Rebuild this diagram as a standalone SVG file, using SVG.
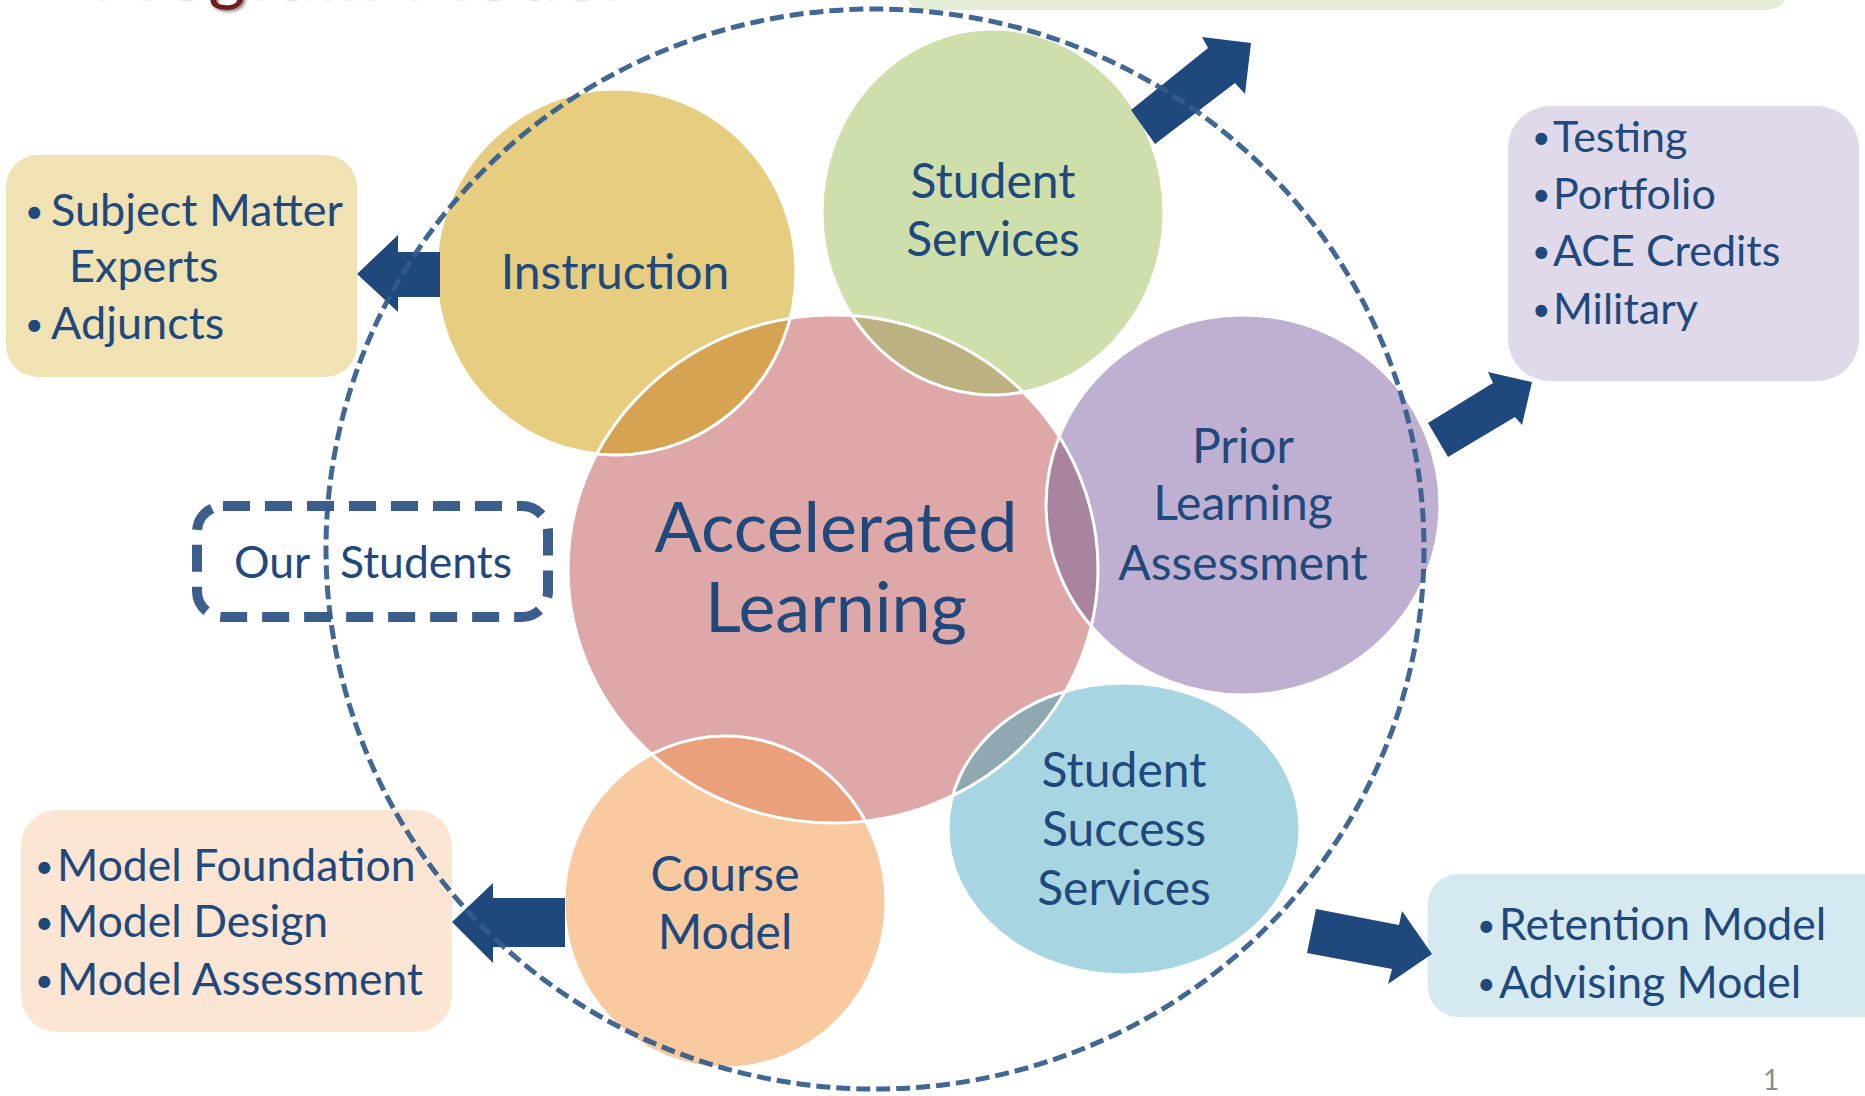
<svg xmlns="http://www.w3.org/2000/svg" width="1865" height="1096" viewBox="0 0 1865 1096">
<style>
  .lbl { font-family: Lato, "Open Sans", "Liberation Sans", sans-serif; fill: #1f497d; text-anchor: middle; }
  .c { font-size: 48px; }
  .big { font-size: 70px; }
  .box { font-family: Lato, "Open Sans", "Liberation Sans", sans-serif; fill: #1f497d; }
  .bul { font-family: Lato, "Open Sans", "Liberation Sans", sans-serif; fill: #1f497d; font-size: 32px; }
  .ring { fill: none; stroke: #ffffff; stroke-width: 3; }
  .arrow { fill: #1f497d; }
</style>
<defs>
  <clipPath id="clipAccel"><ellipse cx="833" cy="569" rx="265" ry="254"/></clipPath>
  <filter id="sh" x="-5%" y="-50%" width="110%" height="200%"><feDropShadow dx="2" dy="2" stdDeviation="1.5" flood-color="#000" flood-opacity="0.45"/></filter>
</defs>
<rect width="1865" height="1096" fill="#ffffff"/>

<g id="title">
  <text x="90" y="-3" font-family="Lato, 'Liberation Sans', sans-serif" font-size="72" fill="#6f1e1e" filter="url(#sh)" textLength="528" lengthAdjust="spacing">Program Model</text>
</g>

<g id="top-box">
  <rect x="903" y="-40" width="887" height="50" rx="24" fill="#e4edd5"/>
</g>

<g id="box-instruction">
  <rect x="6" y="155" width="351" height="222" rx="32" fill="#f0e2b2"/>
  <text class="bul" x="25" y="223">•</text>
  <text class="box" font-size="45" x="51" y="226">Subject Matter</text>
  <text class="box" font-size="45" x="69" y="282">Experts</text>
  <text class="bul" x="25" y="336">•</text>
  <text class="box" font-size="45" x="51" y="339">Adjuncts</text>
</g>

<g id="box-pla">
  <rect x="1508" y="106" width="351" height="275" rx="42" fill="#e0d9ea"/>
  <text class="bul" x="1532" y="149">•</text>
  <text class="box" font-size="43" x="1553" y="152">Testing</text>
  <text class="bul" x="1532" y="206">•</text>
  <text class="box" font-size="43" x="1553" y="209">Portfolio</text>
  <text class="bul" x="1532" y="263">•</text>
  <text class="box" font-size="43" x="1553" y="266">ACE Credits</text>
  <text class="bul" x="1532" y="321">•</text>
  <text class="box" font-size="43" x="1553" y="324">Military</text>
</g>

<g id="box-course">
  <rect x="21" y="810" width="431" height="222" rx="36" fill="#fde5d3"/>
  <text class="bul" x="35" y="878">•</text>
  <text class="box" font-size="44.5" x="57" y="881">Model Foundation</text>
  <text class="bul" x="35" y="934">•</text>
  <text class="box" font-size="44.5" x="57" y="937">Model Design</text>
  <text class="bul" x="35" y="992">•</text>
  <text class="box" font-size="44.5" x="57" y="995">Model Assessment</text>
</g>

<g id="box-success">
  <rect x="1428" y="874" width="470" height="143" rx="30" fill="#d4eaf0"/>
  <text class="bul" x="1477" y="937">•</text>
  <text class="box" font-size="44.5" x="1499" y="940">Retention Model</text>
  <text class="bul" x="1477" y="995">•</text>
  <text class="box" font-size="44.5" x="1499" y="998">Advising Model</text>
</g>

<g id="our-students">
  <rect x="197" y="506" width="351" height="111" rx="26" fill="none" stroke="#3b5e8c" stroke-width="10" stroke-dasharray="27 15"/>
  <text class="box" x="234" y="578" font-size="44.5">Our</text>
  <text class="box" x="340" y="578" font-size="44.5">Students</text>
</g>

<g id="accelerated-learning">
  <ellipse cx="833" cy="569" rx="265" ry="254" fill="#dfa8a8"/>
</g>
<g id="instruction">
  <ellipse cx="616" cy="272" rx="180" ry="183" fill="#e7cd80"/>
  <ellipse cx="616" cy="272" rx="180" ry="183" fill="#d6a352" clip-path="url(#clipAccel)"/>
</g>
<g id="student-services">
  <ellipse cx="993" cy="212" rx="171" ry="183" fill="#cfdfab"/>
  <ellipse cx="993" cy="212" rx="171" ry="183" fill="#bcb180" clip-path="url(#clipAccel)"/>
</g>
<g id="prior-learning">
  <ellipse cx="1243" cy="505" rx="197" ry="190" fill="#bfb0d1"/>
  <ellipse cx="1243" cy="505" rx="197" ry="190" fill="#a8849e" clip-path="url(#clipAccel)"/>
</g>
<g id="student-success">
  <ellipse cx="1124" cy="829" rx="176" ry="146" fill="#a8d5e2"/>
  <ellipse cx="1124" cy="829" rx="176" ry="146" fill="#90a8b2" clip-path="url(#clipAccel)"/>
</g>
<g id="course-model">
  <ellipse cx="725" cy="902" rx="161" ry="166" fill="#f9c9a0"/>
  <ellipse cx="725" cy="902" rx="161" ry="166" fill="#eaa07a" clip-path="url(#clipAccel)"/>
</g>

<g id="outlines">
  <ellipse class="ring" cx="833" cy="569" rx="265" ry="254"/>
  <ellipse class="ring" cx="616" cy="272" rx="180" ry="183"/>
  <ellipse class="ring" cx="993" cy="212" rx="171" ry="183"/>
  <ellipse class="ring" cx="1243" cy="505" rx="197" ry="190"/>
  <ellipse class="ring" cx="1124" cy="829" rx="176" ry="146"/>
  <ellipse class="ring" cx="725" cy="902" rx="161" ry="166"/>
</g>

<g id="labels">
  <text class="lbl c" x="615" y="289">Instruction</text>
  <text class="lbl c" x="993" y="198">Student</text>
  <text class="lbl c" x="993" y="256">Services</text>
  <text class="lbl big" x="836" y="552">Accelerated</text>
  <text class="lbl big" x="836" y="632">Learning</text>
  <text class="lbl c" x="1243" y="463">Prior</text>
  <text class="lbl c" x="1243" y="520">Learning</text>
  <text class="lbl c" x="1243" y="580">Assessment</text>
  <text class="lbl c" x="1124" y="787">Student</text>
  <text class="lbl c" x="1124" y="846">Success</text>
  <text class="lbl c" x="1124" y="905">Services</text>
  <text class="lbl c" x="725" y="891">Course</text>
  <text class="lbl c" x="725" y="949">Model</text>
</g>

<g id="connectors">
  <polygon class="arrow" points="440,252 398,252 398,235 357,274 398,312 398,297 440,297"/>
  <polygon class="arrow" points="1131,110 1208,48 1202,37 1251,43 1245,94 1235,83 1155,144"/>
  <polygon class="arrow" points="1428,423 1493,383 1488,372 1532,382 1522,425 1515,417 1448,457"/>
  <polygon class="arrow" points="1316,909 1399,925 1402,911 1432,954 1388,984 1392,969 1307,953"/>
  <polygon class="arrow" points="565,898 493,898 493,883 452,922 493,963 493,947 565,947"/>
</g>

<g id="boundary">
  <ellipse cx="875" cy="549" rx="549" ry="540" fill="none" stroke="#335b8c" stroke-opacity="0.93" stroke-width="5" stroke-dasharray="14 6"/>
</g>

<g id="page-number">
  <text x="1763" y="1090" font-family="Lato, 'Liberation Sans', sans-serif" font-size="28" fill="#8c8c8c">1</text>
</g>
</svg>
